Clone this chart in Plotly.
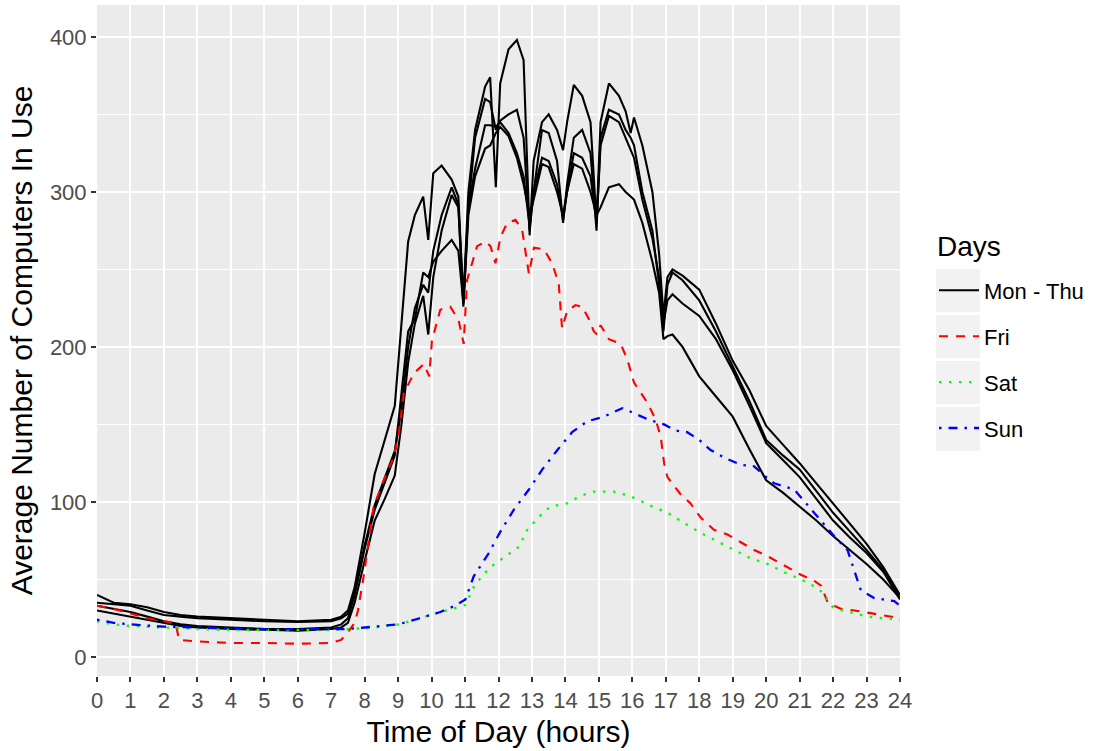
import plotly.graph_objects as go

# ---------------- data ----------------
mt_hours = [0, 0.5, 1, 1.5, 2, 2.5, 3, 4, 5, 6, 7, 7.3, 7.5, 7.7, 8, 8.3, 8.6, 8.9, 9.1, 9.3, 9.5,
            9.75, 9.9, 10.05, 10.3, 10.6, 10.8, 10.95, 11.1, 11.3, 11.6, 11.75, 11.92, 12.05, 12.3,
            12.55, 12.75, 12.93, 13.05, 13.3, 13.5, 13.75, 13.93, 14.05, 14.25, 14.5, 14.75, 14.93,
            15.05, 15.3, 15.6, 15.8, 15.95, 16.05, 16.3, 16.6, 16.8, 16.93, 17.05, 17.2, 17.5, 18,
            18.5, 19, 19.5, 20, 20.5, 21, 21.5, 22, 22.5, 23, 23.5, 24]
mon_thu_1 = [40, 35, 34, 32, 29, 27, 26, 25, 24, 23, 24, 26, 30, 45, 80, 118, 140, 162, 215, 268, 285,
             297, 269, 312, 317, 308, 297, 230, 300, 340, 368, 374, 303, 370, 392,
             398, 385, 272, 320, 345, 350, 340, 327, 345, 369, 362, 345, 280,
             345, 370, 362, 352, 338, 348, 330, 300, 260, 220, 245, 250, 246, 237,
             215, 191, 172, 149, 137, 125, 112, 99, 86, 73, 58, 40]
mon_thu_2 = [35, 34, 33, 30, 27, 26, 25, 24, 23, 22.5, 23, 25, 28, 42, 72, 98, 115, 133, 160, 200, 225,
             240, 235, 262, 285, 303, 292, 228, 290, 335, 360, 358, 340, 346, 350,
             353, 335, 275, 300, 340, 338, 320, 280, 305, 335, 340, 325, 275,
             335, 353, 350, 340, 335, 330, 300, 275, 240, 210, 240, 248, 243, 230,
             210, 187, 165, 140, 130, 121, 107, 93, 81, 69, 56, 38]
mon_thu_3 = [33, 31, 29, 26, 23, 21, 20, 19, 18, 18, 19, 21, 25, 40, 70, 95, 112, 130, 170, 210, 218,
             248, 245, 255, 262, 269, 262, 228, 290, 315, 343, 343, 342, 345, 338,
             325, 310, 278, 300, 322, 320, 305, 282, 300, 325, 322, 310, 280,
             330, 349, 345, 335, 328, 322, 295, 270, 245, 215, 230, 234, 228, 220,
             205, 185, 162, 138, 127, 116, 102, 88, 77, 67, 55, 37]
mon_thu_4 = [30, 28, 26, 24, 22, 20, 19, 18, 17.5, 17, 18, 19, 22, 35, 62, 88, 102, 117, 150, 190, 215,
             233, 208, 245, 275, 298, 290, 226, 285, 310, 328, 330, 338, 342, 336,
             322, 305, 285, 295, 318, 316, 300, 285, 300, 318, 315, 300, 285,
             290, 303, 305, 300, 297, 295, 280, 255, 235, 205, 207, 208, 200, 181,
             168, 155, 134, 114, 106, 97, 88, 78, 69, 60, 50, 38]

fri_hours = [0, 0.5, 1, 1.5, 2, 2.35, 2.45, 3, 4, 5, 6, 7, 7.3, 7.5, 7.7, 7.8, 7.97, 8.27, 8.57, 8.87,
             9.02, 9.17, 9.47, 9.77, 9.93, 10.01, 10.26, 10.56, 10.81, 10.96, 11.06, 11.36, 11.61,
             11.76, 11.91, 12.06, 12.26, 12.51, 12.71, 12.81, 12.91, 13.06, 13.36, 13.6, 13.8, 13.9,
             14.05, 14.3, 14.5, 14.7, 14.85, 14.95, 15.05, 15.3, 15.65, 15.85, 16.05, 16.45, 16.7,
             16.85, 16.95, 17.05, 17.44, 17.74, 18.04, 18.44, 18.84, 19.24, 19.64, 20.04, 20.54,
             21.04, 21.44, 21.64, 21.84, 22.24, 22.64, 23.24, 23.73, 24]
fri_values = [33, 31, 28, 25, 23, 22, 11, 10, 9, 9, 8.5, 9, 11, 16, 22, 30, 52, 97, 114, 129,
              144, 170, 183, 189, 181, 204, 224, 226, 217, 202, 243, 265, 268,
              265, 254, 271, 280, 282, 275, 262, 247, 264, 263, 254, 241, 212,
              223, 227, 226, 218, 210, 208, 214, 205, 202, 192, 177, 164, 153,
              142, 125, 116, 105, 99, 90, 82, 79, 74, 69, 65, 59,
              53, 49, 46, 35, 31, 30, 28, 26, 25]

sat_hours = [0, 0.5, 1, 2, 3, 4, 5, 6, 7, 7.5, 8, 8.5, 9, 9.5, 10, 10.5, 11.01, 11.26, 11.5, 11.76,
             12.21, 12.61, 12.86, 13.21, 13.55, 14.05, 14.45, 14.85, 15.45, 15.9, 16.15, 16.5, 17.05,
             17.5, 18.04, 18.5, 19.04, 19.5, 20.04, 20.5, 21.04, 21.4, 21.73, 21.9, 22.03, 22.5,
             23.03, 23.5, 24]
sat_values = [23, 21, 20, 19, 18, 17.5, 17.5, 17.5, 17.5, 18, 18.5, 19.5, 21, 24, 27, 30, 33.5, 45, 52, 58,
              65, 71, 82, 90.5, 97, 99, 104, 106.6, 106.6, 104, 101.7, 98, 93,
              87, 80, 75, 69, 64, 60, 55, 50, 46, 41, 34, 31.5, 29,
              26, 25, 24]

sun_hours = [0, 0.5, 1, 2, 3, 4, 5, 6, 7, 7.5, 8, 8.5, 9, 9.5, 10, 10.26, 10.7, 11.01, 11.26, 11.5,
             11.71, 12.06, 12.46, 12.91, 13.31, 13.76, 14.2, 14.65, 15.15, 15.7, 16.15, 16.5, 16.95,
             17.3, 17.64, 18.0, 18.34, 18.8, 19.24, 19.64, 20.0, 20.24, 20.84, 21.44, 22.03, 22.43,
             22.63, 22.83, 23.23, 23.83, 24]
sun_values = [24, 22, 21, 19.5, 19, 18.5, 18, 18, 18, 18, 19, 20, 21, 24, 27, 29, 33, 37, 52, 60,
              67, 81, 95, 108, 121, 133.5, 145, 152, 155, 160.5, 156, 153, 150,
              146, 145, 140, 133.5, 128, 124, 123, 116, 112, 108, 93, 78, 69,
              56, 43, 38, 36, 33]

x_ticks = list(range(0, 25))
y_ticks = [0, 100, 200, 300, 400]

# ---------------- figure ----------------
W, H = 1102, 751
PL, PR, PT, PB = 97, 900, 5, 676  # panel pixel box
FONT = "Liberation Sans, Arial, sans-serif"

fig = go.Figure()
for i, vals in enumerate([mon_thu_1, mon_thu_2, mon_thu_3, mon_thu_4]):
    fig.add_trace(go.Scatter(x=mt_hours, y=vals, mode="lines", name="Mon - Thu",
                             legendgroup="mt", showlegend=(i == 0),
                             line=dict(color="black", width=2.1)))
fig.add_trace(go.Scatter(x=fri_hours, y=fri_values, mode="lines", name="Fri", legendgroup="fri",
                         line=dict(color="#FF0000", width=2.1, dash="9px,8px")))
fig.add_trace(go.Scatter(x=sat_hours, y=sat_values, mode="lines", name="Sat", legendgroup="sat",
                         line=dict(color="#00FF00", width=2.3, dash="2.5px,7.5px")))
fig.add_trace(go.Scatter(x=sun_hours, y=sun_values, mode="lines", name="Sun", legendgroup="sun",
                         line=dict(color="#0000FF", width=2.3, dash="2.5px,7px,9px,7px")))

def px_x(p):
    return (p - PL) / (PR - PL)

def px_y(p):
    return (PB - p) / (PB - PT)

# legend key backgrounds (ggplot-style grey boxes)
shapes = []
for top, bot in [(269, 312), (315, 358), (361, 404), (407, 451)]:
    shapes.append(dict(type="rect", xref="paper", yref="paper",
                       x0=px_x(936), x1=px_x(980), y0=px_y(bot), y1=px_y(top),
                       fillcolor="#F2F2F2", line=dict(width=0), layer="below"))

annotations = [dict(text="Days", xref="paper", yref="paper", x=px_x(935), y=px_y(247),
                    xanchor="left", yanchor="middle", showarrow=False,
                    font=dict(size=28, color="black", family=FONT))]

fig.update_layout(
    width=W, height=H,
    margin=dict(l=PL, r=W - PR, t=PT, b=H - PB, autoexpand=False),
    paper_bgcolor="white", plot_bgcolor="#EBEBEB",
    font=dict(family=FONT, color="black"),
    shapes=shapes, annotations=annotations,
    legend=dict(
        font=dict(size=22, color="black"),
        x=px_x(934), xanchor="left", y=px_y(269.5), yanchor="top",
        bgcolor="rgba(0,0,0,0)", borderwidth=0,
        tracegroupgap=14.3, traceorder="grouped", itemwidth=40,
    ),
)
fig.update_xaxes(
    range=[0, 24], tickmode="array", tickvals=x_ticks, ticktext=[str(t) for t in x_ticks],
    showgrid=True, gridcolor="white", gridwidth=1.8, zeroline=False, showline=False,
    ticks="outside", ticklen=5, tickwidth=1.5, tickcolor="#333333",
    tickfont=dict(size=22, color="#4D4D4D"),
    title=dict(text="Time of Day (hours)", font=dict(size=30, color="black"), standoff=8),
)
fig.update_yaxes(
    range=[-12.3, 420.6], tickmode="array", tickvals=y_ticks, ticktext=[str(t) for t in y_ticks],
    showgrid=True, gridcolor="white", gridwidth=1.8, zeroline=False, showline=False,
    minor=dict(showgrid=True, gridcolor="white", gridwidth=1.2, tickvals=[50, 150, 250, 350]),
    ticks="outside", ticklen=5, tickwidth=1.5, tickcolor="#333333",
    tickfont=dict(size=22, color="#4D4D4D"),
    title=dict(text="Average Number of Computers In Use", font=dict(size=30, color="black"), standoff=8),
)

fig.write_html("out.html", config={"displayModeBar": False},
               post_script="document.body.style.margin='0px';")
